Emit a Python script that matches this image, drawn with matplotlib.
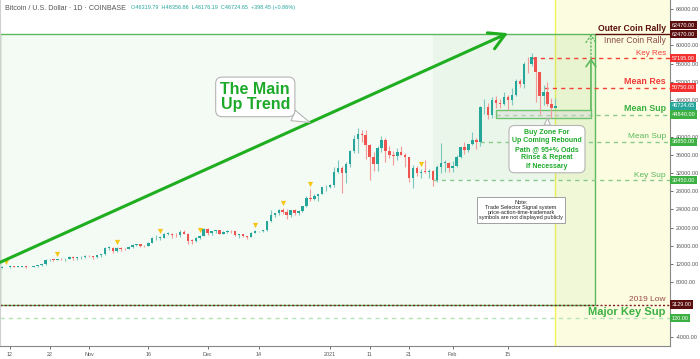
import numpy as np
import pandas as pd
import matplotlib
matplotlib.use('Agg')
import matplotlib.pyplot as plt
import matplotlib.dates as mdates
import matplotlib.transforms as mtransforms
from matplotlib.patches import Rectangle

plt.rcParams['font.family'] = ['Liberation Sans', 'DejaVu Sans']

# daily BTC/USD candles, Oct 10 2020 -> Feb 27 2021
dates = pd.date_range('2020-10-10', '2021-02-27', freq='D')

opens = [11060, 11300, 11380, 11540, 11430, 11430, 11510, 11320, 11365, 11500, 11750, 11920, 12820, 12980, 12930, 13130, 13040, 13070, 13650, 13280, 13460, 13560,
         13800, 13760, 13550, 14030, 14150, 15590, 15590, 14840, 15480, 15330, 15310, 15700, 16290, 16330, 16080, 15960, 16720, 17660, 17800, 17820, 18660, 18690, 18420, 18370, 19160, 18720, 17150, 17140, 17720, 18180,
         19700, 18790, 19220, 19450, 18700, 19150, 19380, 19180, 18320, 18550, 18250, 18040, 18800, 19170, 19270, 19440, 21380, 22820, 23150, 23860, 23480, 22740, 23820, 23250, 23720, 24700, 26490, 26280, 27040, 27370, 28890,
         28990, 29410, 32200, 33000, 32030, 34040, 36860, 39490, 40670, 40240, 38240, 35550, 34000, 37400, 39150, 36770, 36030, 35800, 36630, 36000, 35470, 30850, 33000, 32080, 32280, 32250, 32510, 30400, 33400, 34270, 34300,
         33110, 33530, 35510, 37660, 36960, 38280, 39260, 38880, 46450, 46500, 44840, 47990, 47400, 47180, 48590, 47920, 49140, 52150, 51560, 55920, 55890, 57410, 54090, 48890, 49680, 47050, 46319.79]
highs = [11490, 11440, 11720, 11560, 11550, 11630, 11540, 11410, 11490, 11830, 12000, 13220, 13180, 13030, 13170, 13350, 13250, 13790, 13860, 13640, 13690, 14100,
         13900, 13830, 14070, 14270, 15770, 15970, 15720, 15670, 15850, 15460, 15960, 16340, 16480, 16330, 16140, 16880, 17860, 18480, 18140, 18820, 18960, 18760, 18770, 19420, 19480, 18920, 17460, 17900, 18350, 19860,
         19920, 19340, 19580, 19520, 19180, 19420, 19420, 19300, 18640, 18560, 18280, 18950, 19400, 19350, 19570, 21560, 23800, 23290, 24170, 24300, 24120, 23840, 24100, 23790, 24790, 26870, 28420, 27500, 27400, 28990, 29320,
         29680, 33300, 34800, 33620, 34500, 36950, 40370, 41950, 41350, 41400, 38260, 36630, 37850, 40100, 39750, 37950, 36850, 37400, 37850, 36420, 35600, 33830, 33460, 32950, 34880, 32940, 32560, 33780, 38530, 34880, 34340,
         34720, 35980, 37660, 38720, 38310, 40980, 39700, 46750, 48200, 47310, 48680, 48900, 48150, 49720, 49040, 50640, 52620, 52550, 56350, 57560, 58350, 57530, 54180, 51380, 52060, 48420, 48356.86]
lows = [11050, 11280, 11200, 11300, 11280, 11270, 11210, 11300, 11340, 11420, 11680, 11900, 12680, 12730, 12880, 12900, 12780, 13060, 12940, 12980, 13140, 13430,
        13600, 13220, 13300, 13530, 14100, 15200, 14350, 14710, 14830, 15090, 15290, 15440, 15970, 15720, 15800, 15870, 16560, 17230, 17350, 17760, 18350, 17630, 18020, 18020, 18560, 16330, 16470, 16890, 17520, 18180,
        18330, 18330, 18920, 18570, 18510, 18860, 18910, 18210, 17650, 17920, 17570, 18020, 18740, 19000, 19080, 19300, 21240, 22360, 22800, 23090, 21820, 22350, 22720, 22720, 23430, 24520, 25880, 26100, 25860, 27320, 28000,
        28700, 28950, 32020, 27700, 29900, 33400, 36320, 36500, 38730, 35000, 30400, 32530, 32380, 36700, 34400, 35380, 33850, 34750, 35900, 33400, 30070, 28800, 31390, 30850, 32080, 30830, 29240, 30000, 31930, 32230, 32300,
        32300, 33420, 35370, 36170, 36600, 38210, 37370, 38020, 45000, 43760, 44020, 46250, 46230, 47010, 45740, 47000, 48950, 50880, 50700, 53880, 55500, 47600, 45000, 47000, 46800, 44100, 46176.19]
closes = [11300, 11380, 11540, 11430, 11430, 11510, 11320, 11365, 11500, 11750, 11920, 12820, 12980, 12930, 13130, 13040, 13070, 13650, 13280, 13460, 13560, 13800,
          13760, 13550, 14030, 14150, 15590, 15590, 14840, 15480, 15330, 15310, 15700, 16290, 16330, 16080, 15960, 16720, 17660, 17800, 17820, 18660, 18690, 18420, 18370, 19160, 18720, 17150, 17140, 17720, 18180, 19700,
          18790, 19220, 19450, 18700, 19150, 19380, 19180, 18320, 18550, 18250, 18040, 18800, 19170, 19270, 19440, 21380, 22820, 23150, 23860, 23480, 22740, 23820, 23250, 23720, 24700, 26490, 26280, 27040, 27370, 28890, 28990,
          29410, 32200, 33000, 32030, 34040, 36860, 39490, 40670, 40240, 38240, 35550, 34000, 37400, 39150, 36770, 36030, 35800, 36630, 36000, 35470, 30850, 33000, 32080, 32280, 32250, 32510, 30400, 33400, 34270, 34300, 33110,
          33530, 35510, 37660, 36960, 38280, 39260, 38880, 46450, 46500, 44840, 47990, 47400, 47180, 48590, 47920, 49140, 52150, 51560, 55920, 55890, 57410, 54090, 48890, 49680, 47050, 46300, 46724.65]

# days with the little signal triangles
signal_dates = ['2020-10-11', '2020-10-24', '2020-11-08', '2020-11-19', '2020-11-29',
                '2020-12-13', '2020-12-20', '2020-12-27', '2021-01-24']

# horizontal levels
level_prices = [62470, 57195, 50750, 44840, 38850, 30450, 3129, 120]
level_from = ['2021-03-09', '2021-02-21', '2021-02-24', '2021-02-12', '2021-02-08', '2021-01-27', None, None]
level_colors = ['#5b0e0e', '#f44336', '#f44336', '#8bc98b', '#8bc98b', '#8bc98b', '#7a2020', '#b5e3b5']
level_styles = ['-', (0, (3, 3)), (0, (3, 3)), (0, (3, 3)), (0, (3, 3)), (0, (3, 3)), (0, (1.5, 1.5)), (0, (3, 3))]

level_names = ['Outer Coin Rally', 'Inner Coin Rally', 'Key Res', 'Mean Res', 'Mean Sup', 'Mean Sup', 'Key Sup', '2019 Low', 'Major Key Sup']
name_prices = [62470, 62470, 57195, 50750, 44840, 38850, 30450, 3129, 120]
name_colors = ['#5b0e0e', '#8a4a4a', '#f03a3a', '#f03a3a', '#3cb043', '#5cb85c', '#5cb85c', '#9a4a4a', '#3cb043']
name_bold = [True, False, False, True, True, False, False, False, True]
name_sizes = [6.2, 6.2, 5.8, 6.4, 6.4, 6.0, 6.0, 6.0, 8.0]

tag_prices = [62470, 62470, 57195, 50750, 46724.65, 44840, 38850, 30450, 3129, 120]
tag_colors = ['#5b0e0e', '#5b0e0e', '#f23030', '#f23030', '#26a69a', '#3cb043', '#3cb043', '#3cb043', '#5b0e0e', '#3cb043']

# right axis prices (the ones hidden under tags are left out)
price_ticks = [-4000, 8000, 12000, 16000, 20000, 24000, 28000, 32000, 36000, 40000, 48000, 52000, 56000, 60000, 68000]

tick_dates = ['2020-10-12', '2020-10-22', '2020-11-01', '2020-11-16', '2020-12-01', '2020-12-14',
              '2021-01-01', '2021-01-11', '2021-01-21', '2021-02-01', '2021-02-15']
tick_labels = ['12', '22', 'Nov', '16', 'Dec', '14', '2021', '11', '21', 'Feb', '15']

# trend arrow ends (date, price)
trend_start = ('2020-10-09 12:00', 12400)
trend_end = ('2021-02-15', 62700)

fig = plt.figure(figsize=(7, 3.59), dpi=100)
ax = fig.add_axes([0, 13 / 359, 670 / 700, 346 / 359])

x = mdates.date2num(dates)
o = np.array(opens); h = np.array(highs); l = np.array(lows); c = np.array(closes)
x0 = mdates.date2num(pd.Timestamp('2020-10-12'))
ax.set_xlim(x0 - 2.53, x0 + 167.0)
ax.set_ylim(-5970, 69975)
xmax = ax.get_xlim()[1]
xmin = ax.get_xlim()[0]

# background zones
ax.axvspan(x[-1], xmax, color='#fcfde0', zorder=0.1, lw=0)
ax.axvline(x[-1], color='#f2f25a', lw=1, zorder=0.15)
zone_right = mdates.date2num(pd.Timestamp('2021-03-09'))
ax.add_patch(Rectangle((xmin, 3129), zone_right - xmin, 62470 - 3129, fc=(0.30, 0.69, 0.31, 0.06),
                       ec='#5cb85c', lw=1, zorder=0.2))
sub_left = mdates.date2num(pd.Timestamp('2021-01-27'))
ax.add_patch(Rectangle((sub_left, 30450), zone_right - sub_left, 62470 - 30450, fc=(0.30, 0.69, 0.31, 0.05),
                       ec='none', zorder=0.25))

# levels
for p, start, col, ls in zip(level_prices, level_from, level_colors, level_styles):
    xs = xmin if start is None else mdates.date2num(pd.Timestamp(start))
    ax.hlines(p, xs, xmax, colors=col, linestyles=ls, lw=1, zorder=0.5)

# buy zone box + up arrow
bz_left = mdates.date2num(pd.Timestamp('2021-02-12'))
bz_right = mdates.date2num(pd.Timestamp('2021-03-08'))
ax.add_patch(Rectangle((bz_left, 44075), bz_right - bz_left, 45830 - 44075, fc=(0.85, 0.85, 0.85, 0.45),
                       ec='#6cc36c', lw=1, zorder=0.6))
ax.annotate('', xy=(bz_right, 57195), xytext=(bz_right, 45830),
            arrowprops=dict(arrowstyle='->,head_length=0.5,head_width=0.35', color='#5cb85c', lw=1.2,
                            shrinkA=0, shrinkB=0), zorder=3)
ax.annotate('', xy=(bz_right, 62470), xytext=(bz_right, 57195),
            arrowprops=dict(arrowstyle='->,head_length=0.5,head_width=0.35', color='#5cb85c', lw=1.0,
                            ls=':', shrinkA=0, shrinkB=0), zorder=3)

# candles
up = c >= o
body_col = np.where(up, '#26a69a', '#ef5350')
wick_col = np.where(up, '#7cc8bf', '#f49a98')
ax.vlines(x, l, h, colors=wick_col, lw=0.8, zorder=2)
ax.bar(x, np.maximum(np.abs(c - o), 120), 0.62, bottom=np.minimum(o, c), color=body_col, lw=0, zorder=2.1)

# signal triangles
sig_x = mdates.date2num(pd.to_datetime(signal_dates))
sig_h = [h[list(dates).index(pd.Timestamp(d))] for d in signal_dates]
off = mtransforms.offset_copy(ax.transData, fig=fig, x=0, y=5, units='dots')
ax.scatter(sig_x, sig_h, marker='v', s=14, color='#f5c518', lw=0, transform=off, zorder=3)

# main trend arrow
ts = (mdates.date2num(pd.Timestamp(trend_start[0])), trend_start[1])
te = (mdates.date2num(pd.Timestamp(trend_end[0])), trend_end[1])
ax.annotate('', xy=te, xytext=ts,
            arrowprops=dict(arrowstyle='->,head_length=0.8,head_width=0.45', color='#1fae1f', lw=2.2,
                            shrinkA=0, shrinkB=0, mutation_scale=14), zorder=3)

tip = (ts[0] + 0.61 * (te[0] - ts[0]), ts[1] + 0.61 * (te[1] - ts[1]))
ax.annotate('The Main\nUp Trend', xy=tip, xytext=(0.381, 0.72), textcoords='axes fraction',
            ha='center', va='center', fontsize=11.5, fontweight='bold', color='#1daa2a', linespacing=1.0,
            bbox=dict(boxstyle='round,pad=0.3,rounding_size=0.4', fc='white', ec='#b5b5b5', lw=0.8),
            arrowprops=dict(arrowstyle='wedge,tail_width=0.7,shrink_factor=0.5', fc='white', ec='#b5b5b5',
                            lw=0.8, relpos=(0.84, 0.08), shrinkA=0, shrinkB=0), zorder=4)

ax.annotate('Buy Zone For\nUp Coming Rebound\nPath @ 95+% Odds\nRinse & Repeat\nIf Necessary',
            xy=(mdates.date2num(pd.Timestamp('2021-02-25')), 44075), xytext=(0.8164, 0.569),
            textcoords='axes fraction', ha='center', va='center', fontsize=5.0, fontweight='bold',
            color='#1daa2a', linespacing=1.3,
            bbox=dict(boxstyle='round,pad=0.45,rounding_size=0.8', fc='white', ec='#b5b5b5', lw=0.8),
            arrowprops=dict(arrowstyle='wedge,tail_width=0.9,shrink_factor=0.5', fc='white', ec='#b5b5b5',
                            lw=0.8, relpos=(0.5, 0.9), shrinkA=0, shrinkB=0), zorder=4)

ax.text(0.7776, 0.393, 'Note:\nTrade Selector Signal system\nprice-action-time-trademark\nsymbols are not displayed publicly',
        transform=ax.transAxes, ha='center', va='center', fontsize=4.0, color='#222', linespacing=1.05,
        bbox=dict(boxstyle='square,pad=0.4', fc='white', ec='#a0a0a0', lw=0.7), zorder=4)

# level names on the right
ytr = ax.get_yaxis_transform()
for name, p, col, bold, fs in zip(level_names, name_prices, name_colors, name_bold, name_sizes):
    below = name == 'Inner Coin Rally'
    ax.annotate(name, xy=(1, p), xycoords=ytr, xytext=(-3, -1.5 if below else 1.0), textcoords='offset points',
                ha='right', va='top' if below else 'bottom', fontsize=fs, color=col,
                fontweight='bold' if bold else 'normal', zorder=4)

# price tags
seen = set()
for p, col in zip(tag_prices, tag_colors):
    dy = 6.5 if p in seen else 0
    seen.add(p)
    ax.annotate(f'{p:.2f}', xy=(1, p), xycoords=ytr, xytext=(1.2, dy), textcoords='offset points',
                ha='left', va='center', fontsize=4.0, color='white', annotation_clip=False,
                bbox=dict(boxstyle='square,pad=0.3', fc=col, ec='none'), zorder=6)

# axes styling
ax.yaxis.tick_right()
ax.set_yticks(price_ticks)
ax.yaxis.set_major_formatter(plt.FormatStrFormatter('%.2f'))
ax.set_xticks(mdates.date2num(pd.to_datetime(tick_dates)))
ax.set_xticklabels(tick_labels)
ax.tick_params(axis='both', labelsize=3.9, colors='#555', length=2.5, width=0.6, pad=1.5)
ax.spines['top'].set_visible(False)
ax.spines['left'].set_color('#d0d0d0')
ax.spines['right'].set_color('#888')
ax.spines['bottom'].set_color('#888')

fig.text(5 / 700, 1 - 8 / 359, 'Bitcoin / U.S. Dollar · 1D · COINBASE', fontsize=5.1, color='#555', va='center')
fig.text(131 / 700, 1 - 8 / 359, 'O46319.79  H48356.86  L46176.19  C46724.65  +398.45 (+0.86%)',
         fontsize=4.0, color='#26a69a', va='center')

fig.savefig('out.png', dpi=100)
